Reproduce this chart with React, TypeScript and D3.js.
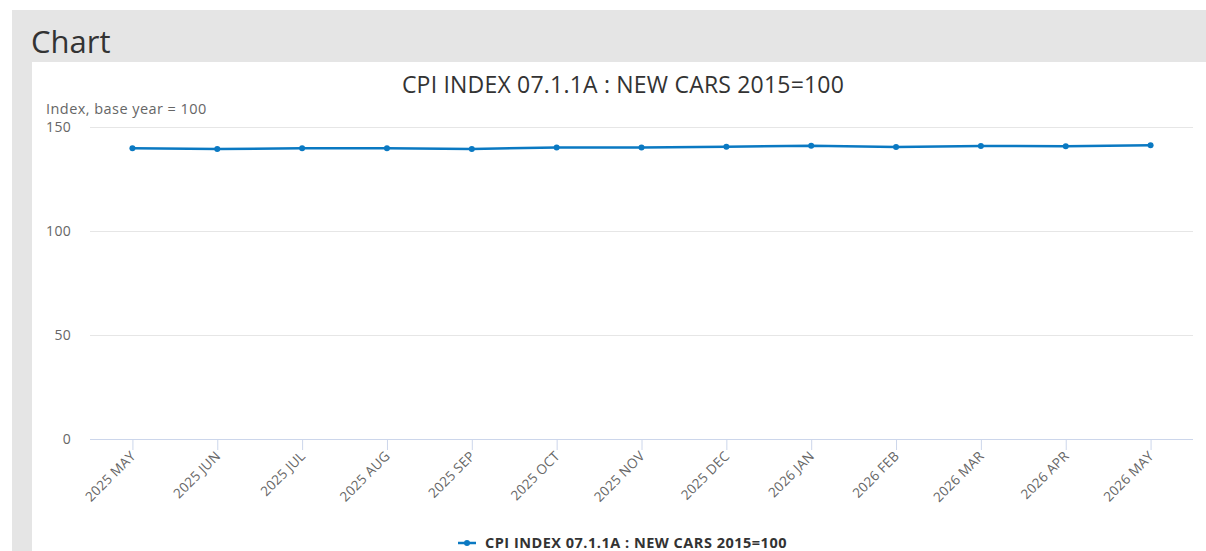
import { useEffect, useRef } from 'react'
import * as d3 from 'd3'

const months = [
  '2025 MAY', '2025 JUN', '2025 JUL', '2025 AUG', '2025 SEP', '2025 OCT', '2025 NOV',
  '2025 DEC', '2026 JAN', '2026 FEB', '2026 MAR', '2026 APR', '2026 MAY',
]
const cpiValues = [139.8, 139.4, 139.8, 139.8, 139.4, 140.2, 140.1, 140.5, 141.0, 140.4, 140.9, 140.7, 141.2]
const yTicks = [0, 50, 100, 150]
const seriesName = 'CPI INDEX 07.1.1A : NEW CARS 2015=100'
const chartTitle = 'CPI INDEX 07.1.1A : NEW CARS 2015=100'
const yAxisTitle = 'Index, base year = 100'

const FONT = '"Open Sans", "DejaVu Sans", sans-serif'

export default function App() {
  const svgRef = useRef<SVGSVGElement>(null)
  const width = 1206
  const height = 551

  useEffect(() => {
    if (!svgRef.current) return
    const svg = d3.select(svgRef.current)
    svg.selectAll('*').remove()

    // page frame
    svg.append('rect').attr('width', width).attr('height', height).attr('fill', '#fff')
    svg.append('rect').attr('x', 12).attr('y', 10).attr('width', width - 12).attr('height', height - 10).attr('fill', '#e5e5e5')
    svg.append('rect').attr('x', 32).attr('y', 62).attr('width', width - 32).attr('height', height - 62).attr('fill', '#fff')

    svg.append('text')
      .attr('x', 31).attr('y', 53)
      .attr('font-family', FONT).attr('font-size', 31).attr('fill', '#333')
      .text('Chart')

    const plot = { left: 90, right: 1193, top: 127, bottom: 439 }

    const x = d3.scaleBand<string>().domain(months).range([plot.left, plot.right])
    const y = d3.scaleLinear().domain([0, 150]).range([plot.bottom, plot.top])
    const cx = (m: string) => (x(m) || 0) + x.bandwidth() / 2

    // title
    svg.append('text')
      .attr('x', 623).attr('y', 93)
      .attr('text-anchor', 'middle')
      .attr('font-family', FONT).attr('font-size', 23).attr('letter-spacing', 0.2).attr('fill', '#333')
      .text(chartTitle)

    // y axis title
    svg.append('text')
      .attr('x', 46).attr('y', 114)
      .attr('font-family', FONT).attr('font-size', 14.5).attr('letter-spacing', 0.45).attr('fill', '#666')
      .text(yAxisTitle)

    // gridlines
    svg.append('g').selectAll('line')
      .data(yTicks.filter((t) => t > 0))
      .enter()
      .append('line')
      .attr('x1', plot.left).attr('x2', plot.right)
      .attr('y1', (d) => y(d) + 0.5).attr('y2', (d) => y(d) + 0.5)
      .attr('stroke', '#e6e6e6').attr('stroke-width', 1)

    // y tick labels
    svg.append('g').selectAll('text')
      .data(yTicks)
      .enter()
      .append('text')
      .attr('x', 71)
      .attr('y', (d) => y(d) + 5)
      .attr('text-anchor', 'end')
      .attr('font-family', FONT).attr('font-size', 14).attr('letter-spacing', 0.3).attr('fill', '#666')
      .text((d) => String(d))

    // x axis line + ticks
    svg.append('line')
      .attr('x1', plot.left).attr('x2', plot.right)
      .attr('y1', plot.bottom + 0.5).attr('y2', plot.bottom + 0.5)
      .attr('stroke', '#ccd6eb')
    svg.append('g').selectAll('line')
      .data(months)
      .enter()
      .append('line')
      .attr('x1', (d) => cx(d) + 0.5).attr('x2', (d) => cx(d) + 0.5)
      .attr('y1', plot.bottom).attr('y2', plot.bottom + 11)
      .attr('stroke', '#ccd6eb')

    // x labels
    svg.append('g').selectAll('text')
      .data(months)
      .enter()
      .append('text')
      .attr('transform', (d) => `translate(${cx(d) + 4},${plot.bottom + 18}) rotate(-45)`)
      .attr('text-anchor', 'end')
      .attr('font-family', FONT).attr('font-size', 13.5).attr('letter-spacing', 0.2).attr('fill', '#666')
      .text((d) => d)

    // series
    const line = d3.line<number>()
      .x((_, i) => cx(months[i]))
      .y((d) => y(d))
    svg.append('path')
      .datum(cpiValues)
      .attr('d', line)
      .attr('fill', 'none')
      .attr('stroke', '#0a79c2')
      .attr('stroke-width', 2.5)
      .attr('stroke-linejoin', 'round')
    svg.append('g').selectAll('circle')
      .data(cpiValues)
      .enter()
      .append('circle')
      .attr('cx', (_, i) => cx(months[i]))
      .attr('cy', (d) => y(d))
      .attr('r', 3)
      .attr('fill', '#0a79c2')

    // legend
    const lg = svg.append('g').attr('transform', 'translate(458,543)')
    lg.append('line').attr('x1', 0).attr('x2', 18).attr('y1', 0).attr('y2', 0)
      .attr('stroke', '#0a79c2').attr('stroke-width', 2.5)
    lg.append('circle').attr('cx', 9).attr('cy', 0).attr('r', 3).attr('fill', '#0a79c2')
    lg.append('text')
      .attr('x', 27).attr('y', 5)
      .attr('font-family', FONT).attr('font-size', 14.5).attr('letter-spacing', 0.5)
      .attr('font-weight', 'bold').attr('fill', '#333')
      .text(seriesName)
  }, [])

  return (
    <svg
      ref={svgRef}
      width={width}
      height={height}
      style={{ position: 'absolute', left: 0, top: 0, display: 'block' }}
    />
  )
}
